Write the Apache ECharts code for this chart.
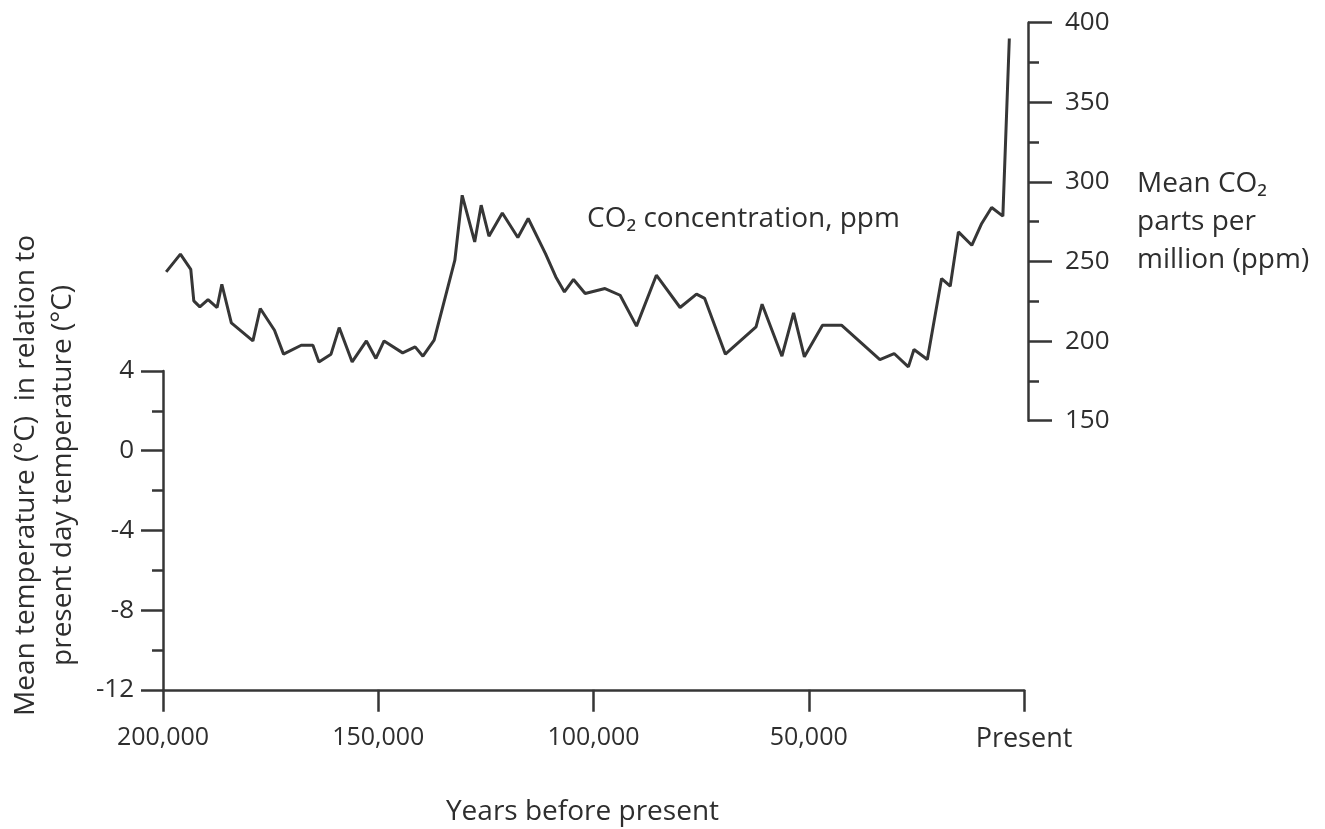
<!DOCTYPE html>
<html>
<head>
<meta charset="utf-8">
<script src="https://cdn.jsdelivr.net/npm/echarts@6/dist/echarts.min.js"></script>
<style>
html,body{margin:0;padding:0;background:#fff;}
#chart{width:1325px;height:829px;}
</style>
</head>
<body>
<div id="chart"></div>
<script>
// Years before present
var yearsBP = [198800,195500,193100,192400,191000,189100,187000,185900,183700,178700,177000,173700,171600,167500,164800,163400,160600,158700,155700,152400,150200,148300,144000,141100,139300,136700,131900,130200,127300,125800,124000,120900,117300,114900,110900,108500,106500,104400,101700,97100,93600,89800,85200,79700,75900,74000,69200,62100,60700,56100,53400,50900,46700,42300,33400,30100,26800,25500,22400,19100,17100,15200,12100,9800,7500,4900,3400];
// Mean CO2 concentration, ppm
var co2ppm = [243.5,254.6,245,225.3,221.5,226.1,221.1,235.7,211.4,200.1,220.5,206.8,191.8,197.4,197.4,186.9,191.8,208.5,186.9,200.1,189.1,200.1,192.6,196.4,190.5,200.6,250.8,291.6,262.3,285.4,265.9,280.5,265.1,277.0,255.0,240.3,230.9,238.7,229.9,233.0,228.8,209.4,241.4,221.1,229.5,226.8,191.8,208.9,223.2,190.5,217.7,190.1,210.0,210.0,188.4,192.2,183.8,194.7,188.4,239.3,234.5,268.6,260.2,273.9,283.9,278.5,390.1];
// Axis tick values
var yearTicks = [200000,150000,100000,50000,0];
var tempTicks = [-12,-8,-4,0,4];
var co2Ticks = [150,200,250,300,350,400];

var FONT = '"Open Sans", "Noto Sans", sans-serif';
var INK = '#2e2e2e';
var LINE = '#363636';

var pts = yearsBP.map(function(y,i){ return [y, co2ppm[i]]; });

var chart = echarts.init(document.getElementById('chart'), null, {renderer:'canvas'});
chart.setOption({
  backgroundColor:'#ffffff',
  animation:false,
  grid:[
    {left:161, right:301, top:371, height:320},
    {left:161, right:301, top:22.7, height:398}
  ],
  xAxis:[
    {
      gridIndex:0, type:'value', inverse:true,
      min:yearTicks[yearTicks.length-1], max:yearTicks[0], interval:50000,
      axisLine:{show:true, onZero:false, lineStyle:{color:LINE, width:2.5}},
      axisTick:{show:true, length:22, lineStyle:{color:LINE, width:2.5}},
      axisLabel:{
        margin:36, color:INK, fontFamily:FONT, fontSize:25,
        formatter:function(v){ return v===0 ? '{p|Present}' : v.toLocaleString('en-US'); },
        rich:{p:{fontSize:27, fontFamily:FONT, color:INK}}
      },
      splitLine:{show:false},
      name:'Years before present', nameLocation:'middle', nameGap:108,
      nameTextStyle:{color:INK, fontFamily:FONT, fontSize:28, padding:[0,22,0,0]}
    },
    {
      gridIndex:1, type:'value', inverse:true,
      min:yearTicks[yearTicks.length-1], max:yearTicks[0], show:false
    }
  ],
  yAxis:[
    {
      gridIndex:0, type:'value', position:'left',
      min:tempTicks[0], max:tempTicks[tempTicks.length-1], interval:4,
      axisLine:{show:true, onZero:false, lineStyle:{color:LINE, width:2.5}},
      axisTick:{show:true, length:22, lineStyle:{color:LINE, width:2.5}},
      minorTick:{show:true, splitNumber:2, length:11, lineStyle:{color:LINE, width:2.5}},
      axisLabel:{margin:29, color:INK, fontFamily:FONT, fontSize:26},
      splitLine:{show:false},
      name:'Mean temperature (°C)  in relation to\npresent day temperature (°C)',
      nameLocation:'middle', nameGap:81,
      nameTextStyle:{color:INK, fontFamily:FONT, fontSize:28, lineHeight:37, padding:[0,0,0,110]}
    },
    {
      gridIndex:1, type:'value', position:'right', offset:4,
      min:co2Ticks[0], max:co2Ticks[co2Ticks.length-1], interval:50,
      axisLine:{show:true, onZero:false, lineStyle:{color:LINE, width:2.5}},
      axisTick:{show:true, length:24, lineStyle:{color:LINE, width:2.5}},
      minorTick:{show:true, splitNumber:2, length:11, lineStyle:{color:LINE, width:2.5}},
      axisLabel:{margin:37, color:INK, fontFamily:FONT, fontSize:26},
      splitLine:{show:false},
      name:'Mean CO₂\nparts per\nmillion (ppm)',
      nameLocation:'middle', nameRotate:0, nameGap:109,
      nameTextStyle:{color:INK, fontFamily:FONT, fontSize:28, lineHeight:38, align:'left'}
    }
  ],
  graphic:[
    {
      type:'text', left:587, top:205,
      style:{text:'CO₂ concentration, ppm', fill:INK, font:'28px ' + FONT}
    }
  ],
  series:[
    {
      type:'line', xAxisIndex:1, yAxisIndex:1,
      data:pts, symbol:'none', smooth:false,
      lineStyle:{color:LINE, width:3}
    }
  ]
});
</script>
</body>
</html>
